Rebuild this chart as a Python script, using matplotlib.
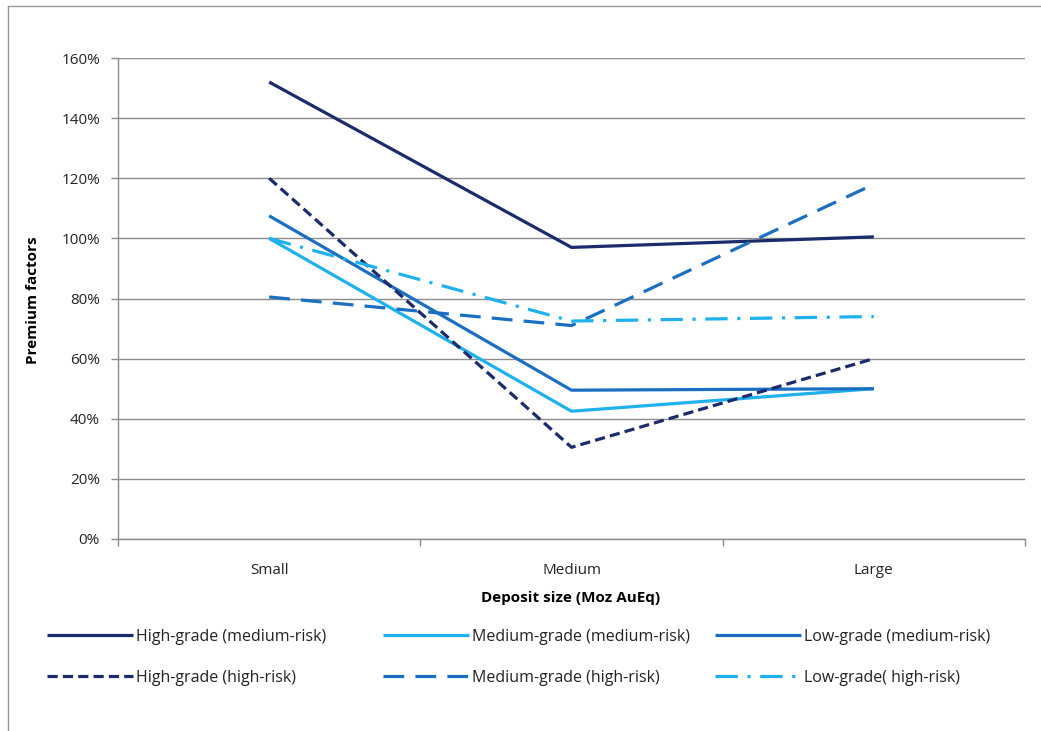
import matplotlib
matplotlib.use("Agg")
import matplotlib.pyplot as plt
from matplotlib.lines import Line2D
from matplotlib.ticker import FuncFormatter, FixedLocator

categories = ["Small", "Medium", "Large"]
series_names = [
    "High-grade (medium-risk)",
    "Medium-grade (medium-risk)",
    "Low-grade (medium-risk)",
    "High-grade (high-risk)",
    "Medium-grade (high-risk)",
    "Low-grade( high-risk)",
]
high_med = [152, 97, 100.5]
medium_med = [100, 42.5, 50]
low_med = [107.5, 49.5, 50]
high_high = [120, 30.5, 60]
medium_high = [80.5, 71, 118]
low_high = [100, 72.5, 74]
values = [high_med, medium_med, low_med, high_high, medium_high, low_high]

navy = "#1b2b6b"
light = "#1fb0ee"
mid = "#1a6fc1"
colors = [navy, light, mid, navy, mid, light]
styles = ["-", "-", "-", (0, (3.2, 1.6)), (0, (6.5, 3.5)), (0, (7, 3, 1, 3))]

plt.rcParams['font.family'] = ['Open Sans', 'DejaVu Sans']

fig = plt.figure(figsize=(10.41, 7.31), dpi=100)
ax = fig.add_axes([118/1041, 1-539/731, (1025-118)/1041, (539-58)/731])

x = list(range(len(categories)))
handles = []
for name, vals, c, ls in zip(series_names, values, colors, styles):
    h, = ax.plot(x, vals, color=c, linestyle=ls, linewidth=2.3, label=name,
                 solid_capstyle='butt', dash_capstyle='butt')
    handles.append(h)

ax.set_xlim(-0.5, 2.5)
ax.set_ylim(0, 160)
ax.set_yticks(range(0, 161, 20))
ax.yaxis.set_major_formatter(FuncFormatter(lambda v, p: f"{int(v)}%"))
ax.set_xticks(x)
ax.set_xticklabels(categories)
ax.xaxis.set_minor_locator(FixedLocator([-0.5, 0.5, 1.5, 2.5]))
ax.tick_params(axis='x', which='major', length=0, pad=17, labelsize=11, colors='#222222')
ax.tick_params(axis='x', which='minor', length=5, direction='out', color='#8c8c8c', width=1)
ax.tick_params(axis='y', length=5, direction='out', color='#8c8c8c', width=1, pad=8,
               labelsize=11, labelcolor='#222222')
ax.grid(axis='y', color='#8c8c8c', linewidth=1)
ax.set_axisbelow(True)
for s in ['top', 'right']:
    ax.spines[s].set_visible(False)
for s in ['left', 'bottom']:
    ax.spines[s].set_color('#8c8c8c')
    ax.spines[s].set_linewidth(1)

fig.text(571/1041, 1-598/731, "Deposit size (Moz AuEq)", ha='center', va='center',
         fontsize=11, fontweight='bold')
fig.text(33/1041, 1-300/731, "Premium factors", ha='center', va='center',
         rotation=90, fontsize=11, fontweight='bold')

# legend entries placed in a 3x2 grid
leg_x = [47, 383, 715, 47, 383, 715]
leg_y = [637, 637, 637, 678, 678, 678]
leg_order = [0, 1, 2, 3, 4, 5]
for i, lx, ly in zip(leg_order, leg_x, leg_y):
    lg = fig.legend([handles[i]], [series_names[i]], loc='center left',
                    bbox_to_anchor=(lx/1041, 1-ly/731), frameon=False,
                    fontsize=11.5, handlelength=5.4, handletextpad=0.2,
                    borderaxespad=0, borderpad=0)
    for t in lg.get_texts():
        t.set_color('#222222')

fig.add_artist(Line2D([8/1041, 8/1041], [0, 1-6/731], transform=fig.transFigure,
                      color='#9a9a9a', linewidth=1))
fig.add_artist(Line2D([8/1041, 1], [1-6/731, 1-6/731], transform=fig.transFigure,
                      color='#9a9a9a', linewidth=1))

fig.savefig("out.png", dpi=100)
